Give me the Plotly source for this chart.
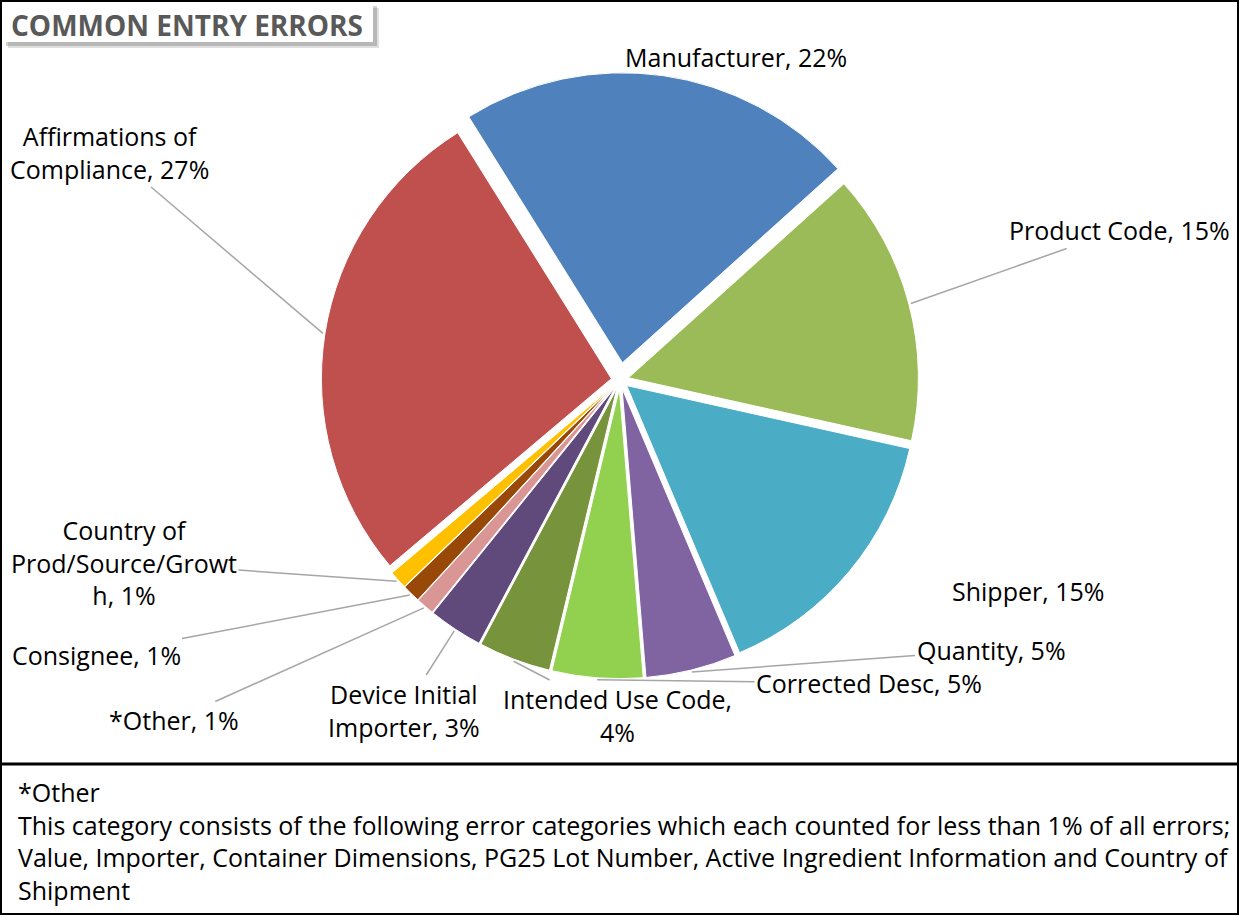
import math
import plotly.graph_objects as go

categories = ["Manufacturer", "Product Code", "Shipper", "Quantity", "Corrected Desc",
              "Intended Use Code", "Device Initial Importer", "*Other", "Consignee",
              "Country of Prod/Source/Growth", "Affirmations of Compliance"]
values = [22, 15, 15, 5, 5, 4, 3, 1, 1, 1, 27]
wrapped_names = ["Manufacturer", "Product Code", "Shipper", "Quantity", "Corrected Desc",
                 "Intended Use Code", "Device Initial<br>Importer", "*Other", "Consignee",
                 "Country of<br>Prod/Source/Growt<br>h", "Affirmations of<br>Compliance"]
separators = [", ", ", ", ", ", ", ", ", ", ",<br>", ", ", ", ", ", ", ", ", ", "]
colors = ["#4F81BD", "#9BBB59", "#4BACC6", "#8064A2", "#92D050", "#77933C",
          "#604A7B", "#D99694", "#984807", "#FFC000", "#C0504D"]

title_text = "COMMON ENTRY ERRORS"
footnote_lines = [
    "*Other",
    "This category consists of the following error categories which each counted for less than 1% of all errors;",
    "Value, Importer, Container Dimensions, PG25 Lot Number, Active Ingredient Information and Country of",
    "Shipment",
]

# ---- layout constants (pixels) ----
W, H = 1239, 915
FONT = "Open Sans"
ROTATION = -32
PULLS = [0.06] + [0.03] * 10
CX, CY, R = 620, 380, 290          # pie centre and radius in pixels
RD = R * (1 + max(PULLS))           # half-size of the pie domain

# label text centres (pixels) and whether they carry a leader line
label_pos = [(736, 57), (1119, 230), (1028, 591), (991, 650), (869, 683), (617, 715),
             (404, 710), (174, 720), (96, 655), (124, 562), (110, 152)]
leader = [False, True, False, True, True, True, True, True, True, True, True]


def fx(p):
    return p / W


def fy(p):
    return 1 - p / H


labels_text = [f"{n}{s}{v}%" for n, s, v in zip(wrapped_names, separators, values)]

fig = go.Figure(go.Pie(
    labels=categories,
    values=values,
    textinfo="none",
    sort=False,
    direction="clockwise",
    rotation=ROTATION,
    pull=PULLS,
    marker=dict(colors=colors, line=dict(color="white", width=1)),
    domain=dict(x=[fx(CX - RD), fx(CX + RD)], y=[fy(CY + RD), fy(CY - RD)]),
    hoverinfo="label+percent",
    showlegend=False,
))

# data labels with leader lines pointing at each slice's outer edge
total = sum(values)
annotations = []
cum = 0
for i, v in enumerate(values):
    mid = math.radians(ROTATION + (cum + v / 2) / total * 360)
    cum += v
    dist = R * (1 + PULLS[i]) + 2
    tipx = CX + dist * math.sin(mid)
    tipy = CY - dist * math.cos(mid)
    lx, ly = label_pos[i]
    if leader[i]:
        annotations.append(dict(
            text=labels_text[i], x=fx(tipx), y=fy(tipy), xref="paper", yref="paper",
            ax=lx - tipx, ay=ly - tipy, showarrow=True, arrowhead=0, arrowwidth=1.5,
            arrowcolor="#A6A6A6", standoff=0, startstandoff=0, align="center",
            font=dict(family=FONT, size=25, color="black")))
    else:
        annotations.append(dict(
            text=labels_text[i], x=fx(lx), y=fy(ly), xref="paper", yref="paper",
            xanchor="center", yanchor="middle", showarrow=False, align="center",
            font=dict(family=FONT, size=25, color="black")))

shapes = [
    # outer border
    dict(type="rect", xref="paper", yref="paper", x0=fx(1), x1=fx(W - 1), y0=fy(H - 1), y1=fy(1),
         line=dict(color="black", width=2)),
    # separator between chart and footnote
    dict(type="line", xref="paper", yref="paper", x0=fx(1), x1=fx(W - 1), y0=fy(764), y1=fy(764),
         line=dict(color="black", width=3)),
    # title shadow
    dict(type="rect", xref="paper", yref="paper", x0=fx(8), x1=fx(379), y0=fy(48), y1=fy(8),
         line=dict(width=0), fillcolor="rgba(0,0,0,0.12)"),
    dict(type="rect", xref="paper", yref="paper", x0=fx(6), x1=fx(377), y0=fy(46), y1=fy(6),
         line=dict(width=0), fillcolor="rgba(0,0,0,0.18)"),
    # title box
    dict(type="rect", xref="paper", yref="paper", x0=fx(2), x1=fx(373), y0=fy(42), y1=fy(2),
         line=dict(width=0), fillcolor="white"),
]

annotations.append(dict(text=f"<b>{title_text}</b>", x=fx(9), y=fy(25), xref="paper", yref="paper",
                        xanchor="left", yanchor="middle", showarrow=False,
                        font=dict(family=FONT, size=28, color="#595959")))
annotations.append(dict(text="<br>".join(footnote_lines), x=fx(16), y=fy(841),
                        xref="paper", yref="paper", xanchor="left", yanchor="middle",
                        align="left", showarrow=False,
                        font=dict(family=FONT, size=25, color="black")))

fig.update_layout(
    width=W, height=H,
    margin=dict(l=0, r=0, t=0, b=0),
    paper_bgcolor="white", plot_bgcolor="white",
    shapes=shapes, annotations=annotations,
)

fig.write_html("out.html", config={"displayModeBar": False},
               post_script="document.body.style.margin='0';")
